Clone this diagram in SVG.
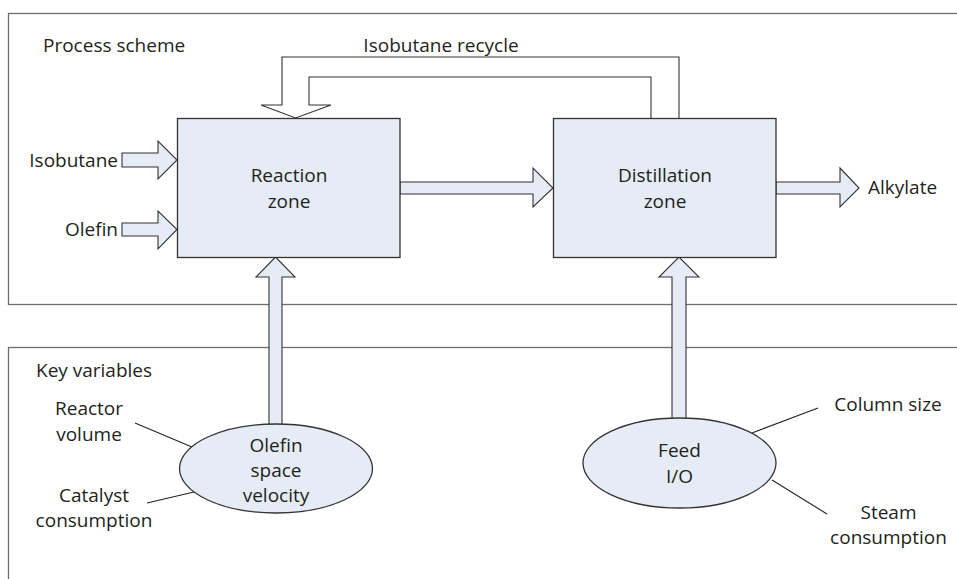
<svg xmlns="http://www.w3.org/2000/svg" width="957" height="579" viewBox="0 0 957 579">
<style>
text{font-family:"Open Sans","Liberation Sans",sans-serif;font-size:19px;fill:#231f20}
.c{text-anchor:middle}
.e{text-anchor:end}
.panel{fill:#fff;stroke:#6d6d6d;stroke-width:1.3}
.box{fill:#e5ecf6;stroke:#333;stroke-width:1.3}
.arr{fill:#e5ecf6;stroke:#333;stroke-width:1.1;stroke-linejoin:miter}
.rec{fill:#fff;stroke:#333;stroke-width:1.1}
.ln{stroke:#231f20;stroke-width:1.1;fill:none}
</style>
<rect width="957" height="579" fill="#fff"/>
<g id="panel-process">
<rect class="panel" x="8.5" y="13.5" width="960" height="291"/>
<text x="43" y="52">Process scheme</text>
</g>
<g id="panel-key">
<rect class="panel" x="8.5" y="347.5" width="960" height="250"/>
<text x="36" y="377">Key variables</text>
</g>
<g id="connectors">
<path class="rec" d="M679,118 V57 H282 V105 H261 L295.5,118 L331,105 H309 V77 H651 V118"/>
<text class="c" x="441" y="52">Isobutane recycle</text>
<path class="arr" d="M122,153 H158 V141 L177,160 L158,179 V167 H122 Z"/>
<path class="arr" d="M122,223 H158 V211 L177,229.5 L158,249 V236 H122 Z"/>
<path class="arr" d="M400,182 H533 V168 L553,188 L533,207 V194 H400 Z"/>
<path class="arr" d="M776,182 H840 V168 L859,188 L840,207 V194 H776 Z"/>
<path class="arr" d="M269,425 V277 H256 L275.5,257 L295,277 H282 V425 Z"/>
<path class="arr" d="M672,419 V277 H659 L679,257 L699,277 H686 V419 Z"/>
<line class="ln" x1="135" y1="423" x2="192" y2="447"/>
<line class="ln" x1="147" y1="503" x2="194" y2="492"/>
<line class="ln" x1="818" y1="408" x2="752" y2="433"/>
<line class="ln" x1="772" y1="480" x2="827" y2="514"/>
</g>
<g id="label-isobutane"><text class="e" x="118" y="167">Isobutane</text></g>
<g id="label-olefin"><text class="e" x="118" y="236">Olefin</text></g>
<g id="label-alkylate"><text x="868" y="194">Alkylate</text></g>
<g id="reaction-zone">
<rect class="box" x="177.5" y="118.5" width="222.5" height="139"/>
<text class="c" x="289" y="182">Reaction</text>
<text class="c" x="289" y="208">zone</text>
</g>
<g id="distillation-zone">
<rect class="box" x="553.5" y="118.5" width="222.5" height="139"/>
<text class="c" x="665" y="182">Distillation</text>
<text class="c" x="665" y="208">zone</text>
</g>
<g id="olefin-space-velocity">
<ellipse class="box" cx="276" cy="468.5" rx="96.5" ry="44.5"/>
<text class="c" x="276" y="452">Olefin</text>
<text class="c" x="276" y="477">space</text>
<text class="c" x="276" y="502">velocity</text>
</g>
<g id="feed-io">
<ellipse class="box" cx="679.5" cy="463" rx="96.5" ry="45"/>
<text class="c" x="679.5" y="457">Feed</text>
<text class="c" x="679.5" y="483">I/O</text>
</g>
<g id="label-reactor-volume">
<text class="c" x="89" y="415">Reactor</text>
<text class="c" x="89" y="441">volume</text>
</g>
<g id="label-catalyst">
<text class="c" x="94" y="502">Catalyst</text>
<text class="c" x="94" y="527">consumption</text>
</g>
<g id="label-column-size"><text class="c" x="888" y="411">Column size</text></g>
<g id="label-steam">
<text class="c" x="888.5" y="519">Steam</text>
<text class="c" x="888.5" y="544">consumption</text>
</g>
</svg>
